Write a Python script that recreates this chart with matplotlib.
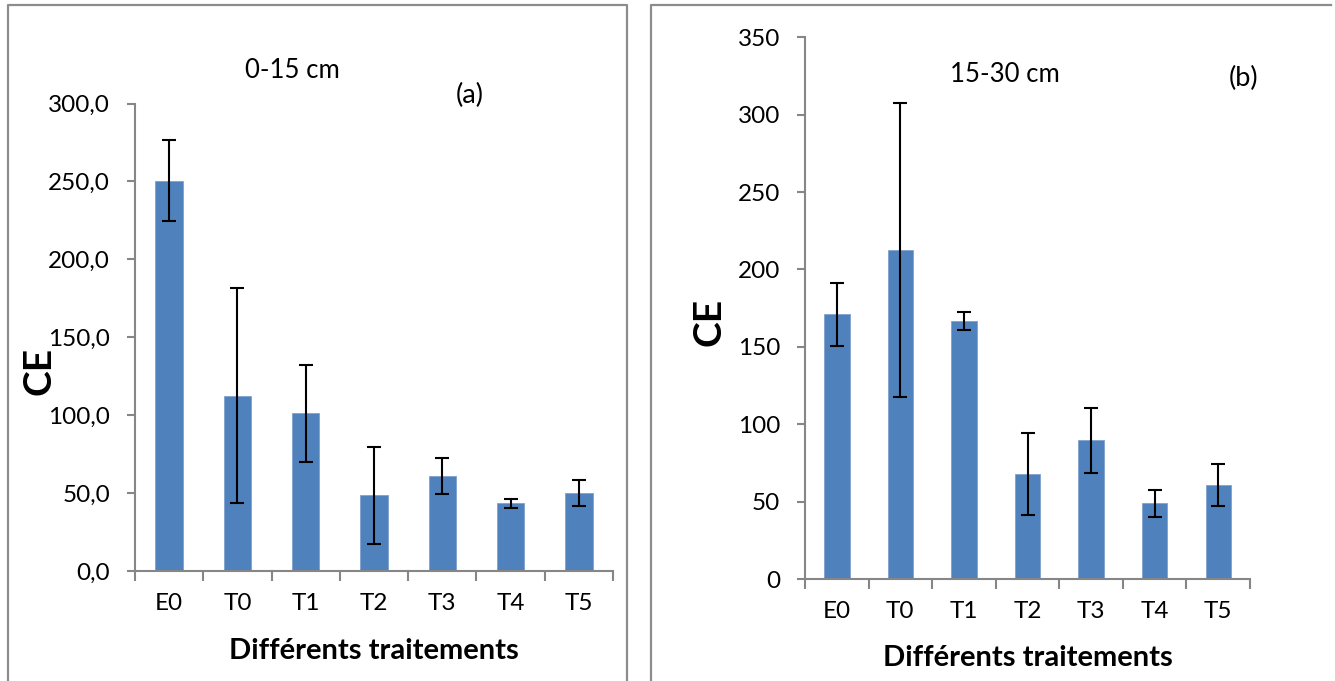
import numpy as np
import matplotlib
matplotlib.use("Agg")
import matplotlib.pyplot as plt
from matplotlib.lines import Line2D

plt.rcParams['font.family'] = ['Lato', 'DejaVu Sans']

categories = ['E0', 'T0', 'T1', 'T2', 'T3', 'T4', 'T5']

# (a) 0-15 cm
ce_a = [250.5, 112.5, 101.2, 48.5, 61.0, 43.5, 50.0]
err_a = [26.0, 69.0, 31.0, 31.0, 11.7, 3.0, 8.6]
ticks_a = [0, 50, 100, 150, 200, 250, 300]
ticklabels_a = ['0,0', '50,0', '100,0', '150,0', '200,0', '250,0', '300,0']

# (b) 15-30 cm
ce_b = [171.0, 212.3, 166.9, 67.9, 89.7, 48.8, 60.9]
err_b = [20.3, 95.0, 5.8, 26.5, 21.0, 8.6, 13.7]
ticks_b = [0, 50, 100, 150, 200, 250, 300, 350]
ticklabels_b = ['0', '50', '100', '150', '200', '250', '300', '350']

W, H = 1335, 681
bar_color = '#4F81BD'
axis_grey = '#868686'
tick_fs = 17.5

fig = plt.figure(figsize=(W / 100, H / 100), dpi=100)


def fx(px):
    return px / W


def fy(py):
    return 1 - py / H


def draw_panel(rect, values, errors, ticks, ticklabels, ymax):
    ax = fig.add_axes(rect)
    x = np.arange(len(categories))
    ax.bar(x, values, width=0.4, color=bar_color, edgecolor='#7fa2cf', linewidth=0.6,
           zorder=2)
    ax.errorbar(x, values, yerr=errors, fmt='none', ecolor='black', elinewidth=1.5,
                capsize=5, capthick=1.5, zorder=3)
    ax.set_xlim(-0.5, len(categories) - 0.5)
    ax.set_ylim(0, ymax)
    for s in ['top', 'right']:
        ax.spines[s].set_visible(False)
    for s in ['left', 'bottom']:
        ax.spines[s].set_color(axis_grey)
        ax.spines[s].set_linewidth(1.5)
    ax.set_yticks(ticks)
    ax.set_yticklabels(ticklabels)
    ax.tick_params(axis='y', direction='out', length=6, width=1.5, color=axis_grey,
                   labelsize=tick_fs, pad=12)
    ax.set_xticks(np.arange(len(categories) + 1) - 0.5)
    ax.set_xticklabels([])
    ax.set_xticks(x, minor=True)
    ax.set_xticklabels(categories, minor=True)
    ax.tick_params(axis='x', which='major', direction='out', length=7, width=1.5,
                   color=axis_grey)
    ax.tick_params(axis='x', which='minor', length=0, labelsize=tick_fs, pad=16)
    return ax


ax_a = draw_panel([fx(135), fy(571), fx(613 - 135), fy(103.5) - fy(571)],
                  ce_a, err_a, ticks_a, ticklabels_a, 300)
ax_b = draw_panel([fx(805), fy(579), fx(1250 - 805), fy(37.3) - fy(579)],
                  ce_b, err_b, ticks_b, ticklabels_b, 350)

# texts
fig.text(fx(292), fy(71), '0-15 cm', fontsize=18.5, ha='center', va='center')
fig.text(fx(470), fy(95), '(a)', fontsize=19.5, ha='center', va='center')
fig.text(fx(1005), fy(74), '15-30 cm', fontsize=18.5, ha='center', va='center')
fig.text(fx(1244), fy(78), '(b)', fontsize=19.5, ha='center', va='center')

fig.text(fx(39), fy(371), 'CE', fontsize=28, fontweight='bold', rotation=90,
         ha='center', va='center')
fig.text(fx(709), fy(322), 'CE', fontsize=28, fontweight='bold', rotation=90,
         ha='center', va='center')

fig.text(fx(374), fy(651), 'Différents traitements', fontsize=21, fontweight='bold',
         ha='center', va='center')
fig.text(fx(1028), fy(658), 'Différents traitements', fontsize=21, fontweight='bold',
         ha='center', va='center')

# panel frames
border = '#8c8c8c'
for xs, ys in [([7.5, 7.5, 627, 627], [H + 5, 4.5, 4.5, H + 5]),
               ([651, 651, 1331], [H + 5, 4.5, 4.5])]:
    fig.add_artist(Line2D([fx(v) for v in xs], [fy(v) for v in ys], color=border,
                          linewidth=1.6))

fig.savefig('out.png', dpi=100)
